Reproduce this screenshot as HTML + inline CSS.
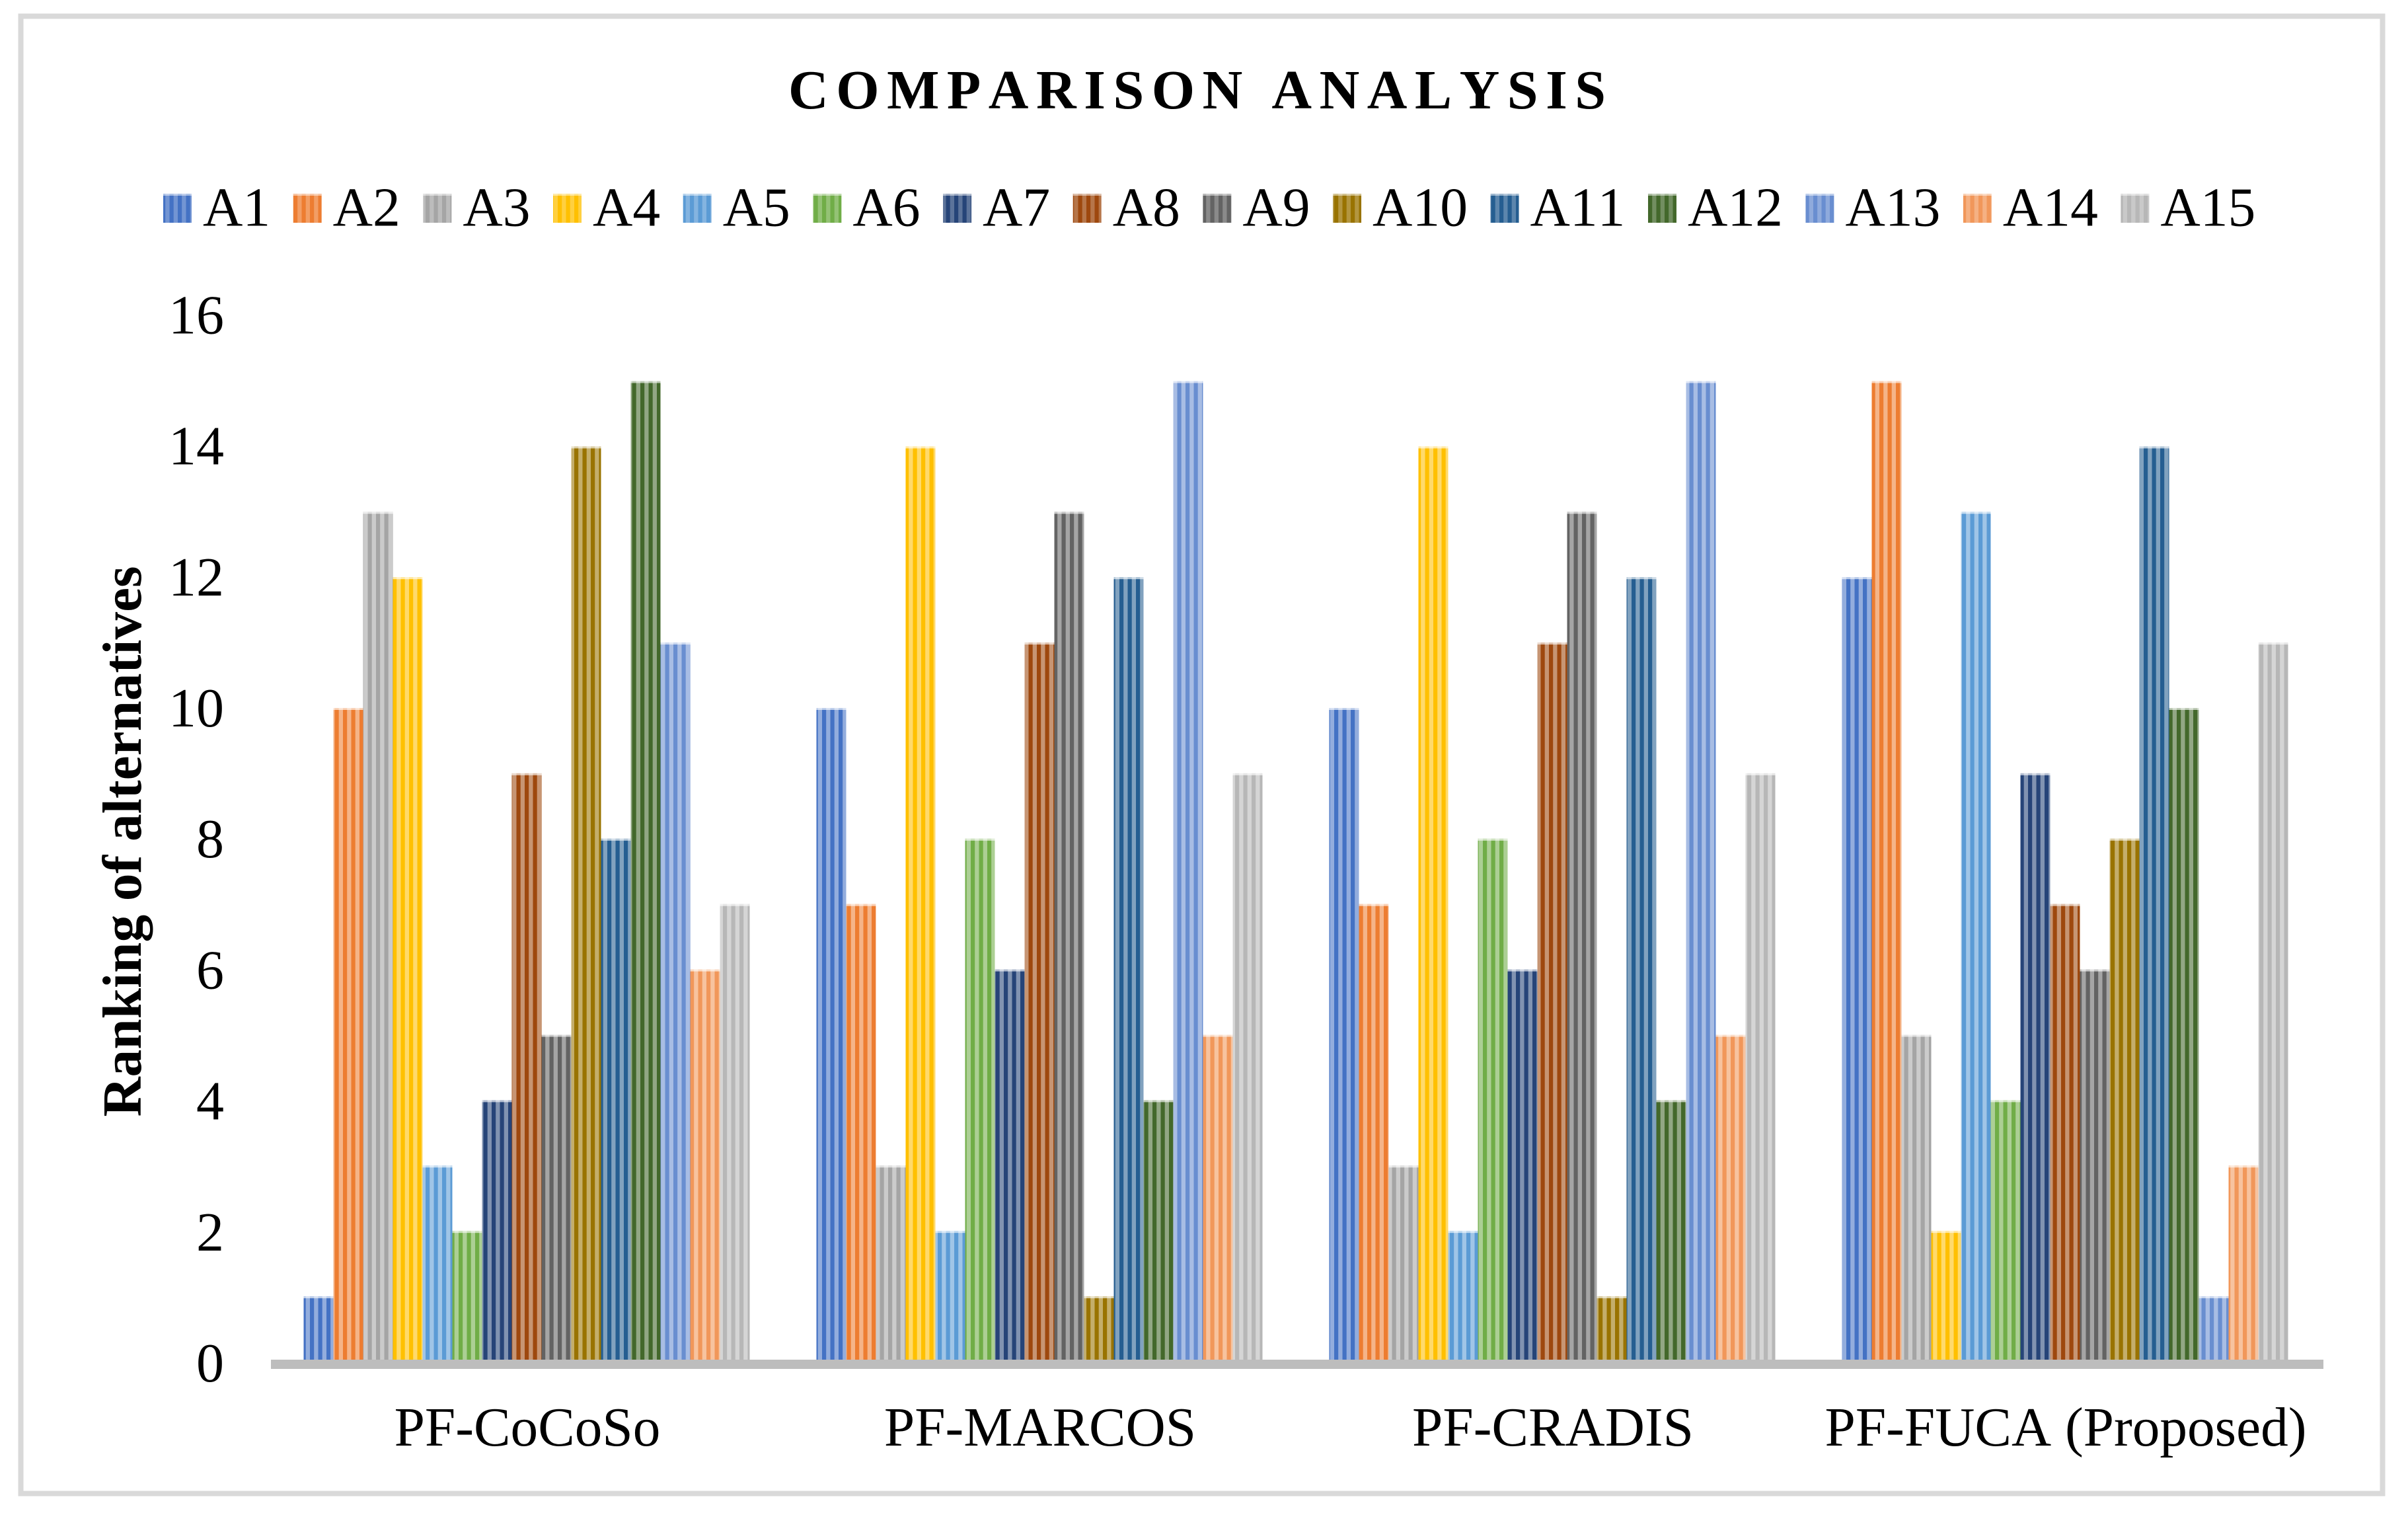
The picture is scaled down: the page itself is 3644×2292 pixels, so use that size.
<!DOCTYPE html>
<html lang="en">
<head>
<meta charset="utf-8">
<title>Comparison Analysis</title>
<style>
html,body{margin:0;padding:0;background:#fff;}
svg{display:block;}
text{font-family:"Liberation Serif",serif;fill:#000;font-kerning:none;}
</style>
</head>
<body>
<svg id="chart" xmlns="http://www.w3.org/2000/svg" width="3644" height="2292" viewBox="0 0 3644 2292">
  <rect x="0" y="0" width="3644" height="2292" fill="#ffffff"/>
  <rect x="31.5" y="24.5" width="3574" height="2235" fill="none" stroke="#d9d9d9" stroke-width="8"/>
  <defs id="patterns"></defs>
  <text x="1193" y="164" font-size="84" font-weight="bold" letter-spacing="11.55">COMPARISON ANALYSIS</text>
  <text transform="translate(213,1273) rotate(-90)" text-anchor="middle" font-size="83.3" font-weight="bold">Ranking of alternatives</text>
  <g id="legend"></g>
  <g id="y-axis"></g>
  <g id="bars"></g>
  <rect x="410" y="2057" width="3106" height="14" fill="#bdbdbd"/>
  <g id="x-axis"></g>
</svg>
<script>
const categories = ["PF-CoCoSo", "PF-MARCOS", "PF-CRADIS", "PF-FUCA (Proposed)"];
const seriesNames = ["A1","A2","A3","A4","A5","A6","A7","A8","A9","A10","A11","A12","A13","A14","A15"];
const valuesCoCoSo = [1,10,13,12,3,2,4,9,5,14,8,15,11,6,7];
const valuesMarcos = [10,7,3,14,2,8,6,11,13,1,12,4,15,5,9];
const valuesCradis = [10,7,3,14,2,8,6,11,13,1,12,4,15,5,9];
const valuesFuca = [12,15,5,2,13,4,9,7,6,8,14,10,1,3,11];
const yTicks = [0,2,4,6,8,10,12,14,16];
const seriesColors = ["#4472C4","#ED7D31","#A5A5A5","#FFC000","#5B9BD5","#70AD47","#264478","#9E480E","#636363","#997300","#255E91","#43682B","#698ED0","#F1975A","#B7B7B7"];

const methodValues = [valuesCoCoSo, valuesMarcos, valuesCradis, valuesFuca];
const SVG_NS = "http://www.w3.org/2000/svg";
const plotLeft = 410, categoryWidth = 776, barWidth = 45, barsInset = 49.5;
const axisTop = 2057, zeroY = 2060, unitHeight = 98.9;

function yScale(v) { return zeroY - v * unitHeight; }
function tickBaseline(v) { return 2090 - v * 99.1; }
function xBand(categoryIndex, seriesIndex) { return plotLeft + categoryIndex * categoryWidth + barsInset + seriesIndex * barWidth; }
function xCenter(categoryIndex) { return plotLeft + (categoryIndex + 0.5) * categoryWidth; }
function lighten(hex, t) {
  const n = parseInt(hex.slice(1), 16);
  const c = [(n >> 16) & 255, (n >> 8) & 255, n & 255].map(function (v) { return Math.round(v + (255 - v) * t); });
  return "rgb(" + c.join(",") + ")";
}
function make(tag, attrs) {
  const el = document.createElementNS(SVG_NS, tag);
  Object.keys(attrs).forEach(function (k) { el.setAttribute(k, attrs[k]); });
  return el;
}
function addPattern(id, color, lightMix) {
  const p = make("pattern", { id: id, patternUnits: "userSpaceOnUse", x: 444, y: 0, width: 12.5, height: 2292 });
  p.appendChild(make("rect", { x: 0, y: 0, width: 12.5, height: 2292, fill: lighten(color, lightMix) }));
  p.appendChild(make("rect", { x: 0, y: 0, width: 6.2, height: 2292, fill: color }));
  document.getElementById("patterns").appendChild(p);
}
seriesColors.forEach(function (color, i) {
  addPattern("stripe-" + i, color, 0.42);
  addPattern("swatch-" + i, color, 0.25);
});

const barsLayer = document.getElementById("bars");
methodValues.forEach(function (values, c) {
  values.forEach(function (value, s) {
    const top = yScale(value);
    const bar = make("rect", { x: xBand(c, s), y: top, width: barWidth, height: axisTop - top, fill: "url(#stripe-" + s + ")" });
    
    
    barsLayer.appendChild(bar);
    const cap = make("rect", { x: xBand(c, s), y: top, width: barWidth, height: 3, fill: "#ffffff", "fill-opacity": 0.65 });
    
    
    barsLayer.appendChild(cap);
  });
});

const legendLayer = document.getElementById("legend");
let legendX = 247;
seriesNames.forEach(function (name, i) {
  const swatch = make("rect", { x: legendX, y: 293, width: 43, height: 44, fill: "url(#swatch-" + i + ")" });
  
  
  legendLayer.appendChild(swatch);
  const swatchTop = make("rect", { x: legendX, y: 293, width: 43, height: 3, fill: "#ffffff", "fill-opacity": 0.55 });
  
  
  legendLayer.appendChild(swatchTop);
  const label = make("text", { x: legendX + 60, y: 341.5, "font-size": 83.6 });
  label.textContent = name;
  
  
  legendLayer.appendChild(label);
  legendX += 94.5 + label.getComputedTextLength();
});

const yAxis = document.getElementById("y-axis");
yTicks.forEach(function (tick) {
  const label = make("text", { x: 339, y: tickBaseline(tick), "font-size": 84, "text-anchor": "end" });
  label.textContent = String(tick);
  
  
  yAxis.appendChild(label);
});

const xAxis = document.getElementById("x-axis");
categories.forEach(function (name, c) {
  const label = make("text", { x: xCenter(c), y: 2187, "font-size": 83.3, "text-anchor": "middle" });
  label.textContent = name;
  
  
  xAxis.appendChild(label);
});
</script>
</body>
</html>
